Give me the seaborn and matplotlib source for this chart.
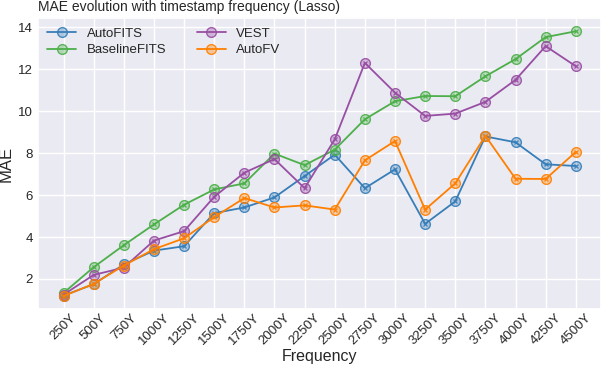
import matplotlib
matplotlib.use("Agg")
import matplotlib.pyplot as plt
import seaborn as sns
import pandas as pd
from matplotlib.colors import to_rgba

frequencies = ['250Y', '500Y', '750Y', '1000Y', '1250Y', '1500Y', '1750Y', '2000Y', '2250Y',
               '2500Y', '2750Y', '3000Y', '3250Y', '3500Y', '3750Y', '4000Y', '4250Y', '4500Y']

autofits = [1.20, 1.75, 2.69, 3.35, 3.56, 5.14, 5.41, 5.89, 6.91,
            7.93, 6.33, 7.23, 4.63, 5.70, 8.80, 8.52, 7.47, 7.39]
baselinefits = [1.33, 2.56, 3.61, 4.60, 5.54, 6.27, 6.56, 7.98, 7.43,
                8.17, 9.62, 10.48, 10.73, 10.72, 11.67, 12.49, 13.54, 13.82]
vest = [1.25, 2.19, 2.54, 3.83, 4.28, 5.92, 7.07, 7.72, 6.33,
        8.66, 12.31, 10.89, 9.78, 9.89, 10.45, 11.50, 13.11, 12.15]
autofv = [1.19, 1.76, 2.64, 3.42, 3.94, 4.95, 5.86, 5.41, 5.51,
          5.31, 7.66, 8.58, 5.31, 6.56, 8.83, 6.78, 6.77, 8.06]

methods = ['AutoFITS', 'BaselineFITS', 'VEST', 'AutoFV']
colors = ['#377eb8', '#4daf4a', '#984ea3', '#ff7f00']

df = pd.DataFrame({
    'Frequency': frequencies * 4,
    'MAE': autofits + baselinefits + vest + autofv,
    'Method': [m for m in methods for _ in frequencies],
})

sns.set_theme(style='darkgrid')
plt.rcParams['font.family'] = ['Liberation Sans', 'DejaVu Sans']

fig, ax = plt.subplots(figsize=(6.02, 3.68), dpi=100)
fig.subplots_adjust(left=0.063, right=0.999, top=0.951, bottom=0.160)

for method, color in zip(methods, colors):
    sub = df[df['Method'] == method]
    sns.lineplot(data=sub, x='Frequency', y='MAE', color=color, label=method, ax=ax,
                 marker='o', markersize=7, markerfacecolor=to_rgba(color, 0.35),
                 markeredgecolor=to_rgba(color, 0.9), markeredgewidth=1.0,
                 linewidth=1.3, sort=False)
    ax.plot(sub['Frequency'], sub['MAE'], linestyle='none', marker='x', markersize=3.2,
            color=color, markeredgewidth=0.9, alpha=0.9)

ax.set_title('MAE evolution with timestamp frequency (Lasso)', loc='left', fontsize=10, pad=5)
ax.set_xlabel('Frequency', fontsize=11.5, labelpad=1)
ax.set_ylabel('MAE', fontsize=12, labelpad=3)
ax.set_yticks([2, 4, 6, 8, 10, 12, 14])
ax.tick_params(axis='both', labelsize=9.5, length=0)
ax.tick_params(axis='y', pad=3.5)
ax.tick_params(axis='x', pad=2)
plt.setp(ax.get_xticklabels(), rotation=45)
ax.legend(loc='upper left', ncol=2, frameon=False, fontsize=9.5, columnspacing=2.3,
          handlelength=2.2, borderaxespad=0.3, labelspacing=0.35)

fig.savefig('out.png', dpi=100)
